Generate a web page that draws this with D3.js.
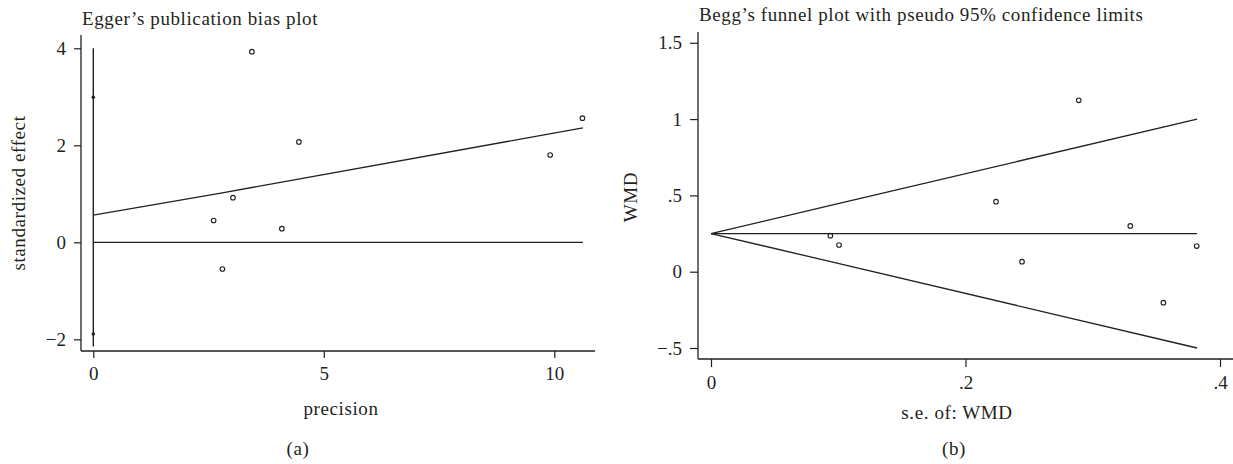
<!DOCTYPE html>
<html><head><meta charset="utf-8">
<script src="https://cdn.jsdelivr.net/npm/d3@7"></script>
<style>
body{margin:0;background:#fff;}
svg text{font-family:"Liberation Serif","Times New Roman",serif;fill:#231f20;}
</style></head>
<body><svg id="c" width="1233" height="464"></svg>
<script>
// Panel (a): Egger's publication bias plot
const eggerPrecision = [3.44, 4.46, 3.03, 2.61, 4.09, 2.80, 10.61, 9.91];
const eggerEffect    = [3.93, 2.07, 0.92, 0.45, 0.28, -0.55, 2.56, 1.80];
const eggerFitX = [0, 2.8, 10.62];
const eggerFitY = [0.56, 1.02, 2.36];
const eggerCI = [-1.89, 2.99];      // intercept CI markers
const eggerCILine = [-2.15, 4.0];   // vertical line extent
const eggerZeroX = [0, 10.62];
const eggerXTicks = [0, 5, 10];
const eggerYTicks = [4, 2, 0, -2];

// Panel (b): Begg's funnel plot
const beggSE  = [0.0938, 0.1006, 0.289, 0.224, 0.3295, 0.2444, 0.3555, 0.3817];
const beggWMD = [0.236, 0.175, 1.123, 0.459, 0.30, 0.066, -0.203, 0.168];
const funnelSE    = [0, 0.094, 0.382];
const funnelUpper = [0.25, 0.434, 1.0];
const funnelLower = [0.25, 0.066, -0.50];
const pooledWMD = 0.25;
const beggXTicks = [0, 0.2, 0.4];
const beggXLabels = ["0", ".2", ".4"];
const beggYTicks = [1.5, 1, 0.5, 0, -0.5];
const beggYLabels = ["1.5", "1", ".5", "0", "\u2212.5"];

const svg = d3.select("#c");
const ink = "#231f20";
const FS = 19;
const LS = "0.6px";

function fmtMinus(v){ return String(v).replace("-", "\u2212"); }
function label(g, txt){ return g.append("text").attr("font-size", FS).attr("letter-spacing", LS).text(txt); }

// ---------- Panel (a) ----------
{
  const x = d3.scaleLinear().domain([0, 10]).range([93.3, 554.3]);
  const y = d3.scaleLinear().domain([0, 2]).range([242.3, 145.3]);
  const left = 81, bottom = 351, top = 35, right = 595;
  const g = svg.append("g");

  g.append("line").attr("x1", left).attr("x2", left).attr("y1", top).attr("y2", bottom)
    .attr("stroke", ink).attr("stroke-width", 1.3);
  g.append("line").attr("x1", left).attr("x2", right).attr("y1", bottom).attr("y2", bottom)
    .attr("stroke", ink).attr("stroke-width", 1.3);

  const ya = g.append("g").attr("transform", `translate(${left},0)`)
    .call(d3.axisLeft(y).tickValues(eggerYTicks).tickSize(7).tickPadding(8).tickFormat(fmtMinus));
  const xa = g.append("g").attr("transform", `translate(0,${bottom})`)
    .call(d3.axisBottom(x).tickValues(eggerXTicks).tickSize(7).tickPadding(9).tickFormat(d3.format("d")));
  [ya, xa].forEach(a => {
    a.select(".domain").remove();
    a.selectAll("line").attr("stroke", ink).attr("stroke-width", 1.2);
    a.selectAll("text").attr("font-size", FS).style("font-family", "Liberation Serif").attr("fill", ink);
  });

  const line = d3.line().x(d => x(d[0])).y(d => y(d[1]));
  g.append("path").attr("d", line(eggerFitX.map((v, i) => [v, eggerFitY[i]])))
    .attr("fill", "none").attr("stroke", ink).attr("stroke-width", 1.3);
  g.append("path").attr("d", line(eggerZeroX.map(v => [v, 0])))
    .attr("fill", "none").attr("stroke", ink).attr("stroke-width", 1.3);
  g.append("path").attr("d", line(eggerCILine.map(v => [0, v])))
    .attr("fill", "none").attr("stroke", ink).attr("stroke-width", 1.4);
  g.selectAll(".ci").data(eggerCI).enter().append("circle")
    .attr("cx", x(0)).attr("cy", d => y(d)).attr("r", 1.8).attr("fill", ink);

  g.selectAll(".pt").data(eggerPrecision.map((v, i) => [v, eggerEffect[i]])).enter().append("circle")
    .attr("cx", d => x(d[0])).attr("cy", d => y(d[1])).attr("r", 2.3)
    .attr("fill", "none").attr("stroke", ink).attr("stroke-width", 1.1);

  label(g, "Egger\u2019s publication bias plot").attr("x", 82).attr("y", 25);
  label(g, "standardized effect").attr("transform", "translate(25,193) rotate(-90)").attr("text-anchor", "middle");
  label(g, "precision").attr("x", 341).attr("y", 415).attr("text-anchor", "middle");
  label(g, "(a)").attr("x", 298).attr("y", 455).attr("text-anchor", "middle");
}

// ---------- Panel (b) ----------
{
  const x = d3.scaleLinear().domain([0, 0.2]).range([711, 965.5]);
  const y = d3.scaleLinear().domain([0, 0.5]).range([271.7, 195.4]);
  const left = 698, bottom = 359, top = 32, right = 1233;
  const g = svg.append("g");

  g.append("line").attr("x1", left).attr("x2", left).attr("y1", top).attr("y2", bottom)
    .attr("stroke", ink).attr("stroke-width", 1.3);
  g.append("line").attr("x1", left).attr("x2", right).attr("y1", bottom).attr("y2", bottom)
    .attr("stroke", ink).attr("stroke-width", 1.3);

  const ya = g.append("g").attr("transform", `translate(${left},0)`)
    .call(d3.axisLeft(y).tickValues(beggYTicks).tickSize(8).tickPadding(8)
      .tickFormat((d, i) => beggYLabels[i]));
  const xa = g.append("g").attr("transform", `translate(0,${bottom})`)
    .call(d3.axisBottom(x).tickValues(beggXTicks).tickSize(8).tickPadding(9)
      .tickFormat((d, i) => beggXLabels[i]));
  [ya, xa].forEach(a => {
    a.select(".domain").remove();
    a.selectAll("line").attr("stroke", ink).attr("stroke-width", 1.2);
    a.selectAll("text").attr("font-size", FS).style("font-family", "Liberation Serif").attr("fill", ink);
  });

  const line = d3.line().x(d => x(d[0])).y(d => y(d[1]));
  g.append("path").attr("d", line(funnelSE.map((v, i) => [v, funnelUpper[i]])))
    .attr("fill", "none").attr("stroke", ink).attr("stroke-width", 1.3);
  g.append("path").attr("d", line(funnelSE.map((v, i) => [v, funnelLower[i]])))
    .attr("fill", "none").attr("stroke", ink).attr("stroke-width", 1.3);
  g.append("path").attr("d", line([[funnelSE[0], pooledWMD], [funnelSE[funnelSE.length - 1], pooledWMD]]))
    .attr("fill", "none").attr("stroke", ink).attr("stroke-width", 1.3);

  g.selectAll(".pt").data(beggSE.map((v, i) => [v, beggWMD[i]])).enter().append("circle")
    .attr("cx", d => x(d[0])).attr("cy", d => y(d[1])).attr("r", 2.3)
    .attr("fill", "none").attr("stroke", ink).attr("stroke-width", 1.1);

  label(g, "Begg\u2019s funnel plot with pseudo 95% confidence limits").attr("x", 699).attr("y", 21);
  label(g, "WMD").attr("transform", "translate(637,197) rotate(-90)").attr("text-anchor", "middle");
  label(g, "s.e. of: WMD").attr("x", 957).attr("y", 419).attr("text-anchor", "middle");
  label(g, "(b)").attr("x", 954).attr("y", 455).attr("text-anchor", "middle");
}
</script></body></html>
